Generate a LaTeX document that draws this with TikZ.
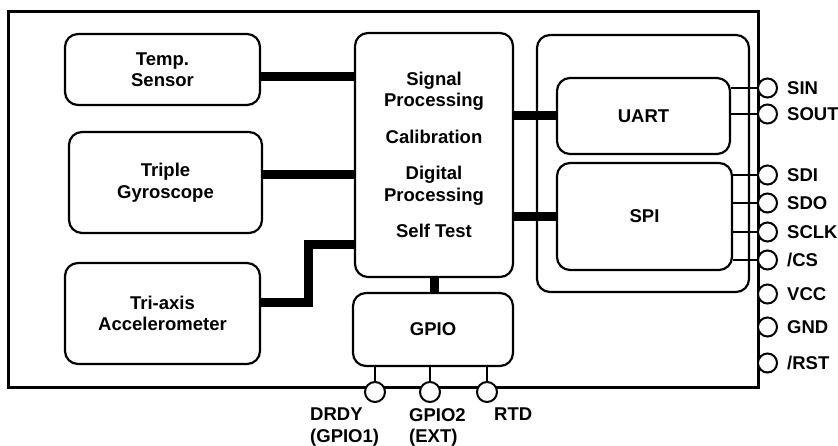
\documentclass[tikz,border=0pt]{standalone}
\usepackage{fontspec}
\setmainfont{Liberation Sans}
\usetikzlibrary{positioning,calc}

\tikzset{
	blk/.style={draw, line width=2.2pt, rounded corners=13pt, align=center, inner sep=0pt},
	bus/.style={line width=9pt},
	wire/.style={line width=1.8pt},
	pin/.style={draw, circle, line width=2pt, fill=white, minimum size=19pt, inner sep=0pt},
	pinlbl/.style={inner sep=0pt, align=left},
}

\begin{document}
\begin{tikzpicture}[x=1pt, y=-1pt, font=\bfseries\fontsize{18.5}{21.5}\selectfont]

		\useasboundingbox (0,0) rectangle (838,446);

		% chip outline
		\node[draw, line width=3pt, minimum width=750pt, minimum height=375pt, inner sep=0pt] (chip) at (383,199.5) {};

		% sensors
		\node[blk, minimum width=195pt, minimum height=71pt] (temp) at (162.5,69.5) {Temp.\\Sensor};
		\node[blk, minimum width=193pt, minimum height=101pt] (gyro) at (165.5,182.5) {Triple\\Gyroscope};
		\node[blk, minimum width=195pt, minimum height=101pt] (acc) at (162.5,313.5) {Tri-axis\\Accelerometer};

		% processing and gpio
		\node[blk, minimum width=158pt, minimum height=244pt] (proc) at (434,155) {Signal\\Processing\\[15pt]Calibration\\[15pt]Digital\\Processing\\[15pt]Self Test};
		\node[blk, minimum width=160pt, minimum height=73pt] (gpio) at (433,329.5) {GPIO};

		% interfaces
		\node[blk, minimum width=212pt, minimum height=257pt] (iface) at (643,163.5) {};
		\node[blk, minimum width=173pt, minimum height=76pt] (uart) at (643.5,116) {UART};
		\node[blk, minimum width=175pt, minimum height=107pt] (spi) at (644.5,216.5) {SPI};

		% buses
		\coordinate (t1) at ($(temp.east)+(0,7.5)$);
		\draw[bus] (t1) -- (t1 -| proc.west);
		\coordinate (g1) at ($(gyro.east)+(0,-7.5)$);
		\draw[bus] (g1) -- (g1 -| proc.west);
		\coordinate (a1) at ($(acc.east)+(0,-10.5)$);
		\coordinate (a2) at (308,245);
		\draw[bus] (a1) -- (a1 -| a2) -- (a2) -- (a2 -| proc.west);
		\draw[bus] (uart.west -| proc.east) -- (uart.west);
		\draw[bus] (spi.west -| proc.east) -- (spi.west);
		\draw[bus] (proc.south) -- (proc.south |- gpio.north);

		% right pins
		\node[pin] (sin) at (767.5,88) {};
		\node[pin] (sout) at (767.5,114) {};
		\node[pin] (sdi) at (767.5,175) {};
		\node[pin] (sdo) at (767.5,203) {};
		\node[pin] (sclk) at (767.5,232) {};
		\node[pin] (cs) at (767.5,260) {};
		\node[pin] (vcc) at (767.5,294) {};
		\node[pin] (gnd) at (767.5,327) {};
		\node[pin] (rst) at (767.5,363) {};

		\node[pinlbl, right=9pt of sin] (sinl) {SIN};
		\node[pinlbl, right=9pt of sout] (soutl) {SOUT};
		\node[pinlbl, right=9pt of sdi] (sdil) {SDI};
		\node[pinlbl, right=9pt of sdo] (sdol) {SDO};
		\node[pinlbl, right=9pt of sclk] (sclkl) {SCLK};
		\node[pinlbl, right=9pt of cs] (csl) {/CS};
		\node[pinlbl, right=9pt of vcc] (vccl) {VCC};
		\node[pinlbl, right=9pt of gnd] (gndl) {GND};
		\node[pinlbl, right=9pt of rst] (rstl) {/RST};

		\draw[wire] (sin -| uart.east) -- (sin.west);
		\draw[wire] (sout -| uart.east) -- (sout.west);
		\draw[wire] (sdi -| spi.east) -- (sdi.west);
		\draw[wire] (sdo -| spi.east) -- (sdo.west);
		\draw[wire] (sclk -| spi.east) -- (sclk.west);
		\draw[wire] (cs -| spi.east) -- (cs.west);

		% bottom pins
		\node[pin, minimum size=20pt] (drdy) at (375,392) {};
		\node[pin, minimum size=20pt] (gpiotwo) at (430,392) {};
		\node[pin, minimum size=20pt] (rtd) at (487,392) {};

		\draw[wire] (gpio.south -| drdy) -- (drdy.north);
		\draw[wire] (gpio.south -| gpiotwo) -- (gpiotwo.north);
		\draw[wire] (gpio.south -| rtd) -- (rtd.north);

		\node[pinlbl, anchor=north west] (drdyl) at (310,408) {DRDY\\(GPIO1)};
		\node[pinlbl, anchor=north west] (gpiotwol) at (409,408) {GPIO2\\(EXT)};
		\node[pinlbl, anchor=north west] (rtdl) at (494,408) {RTD};

	\end{tikzpicture}
\end{document}
